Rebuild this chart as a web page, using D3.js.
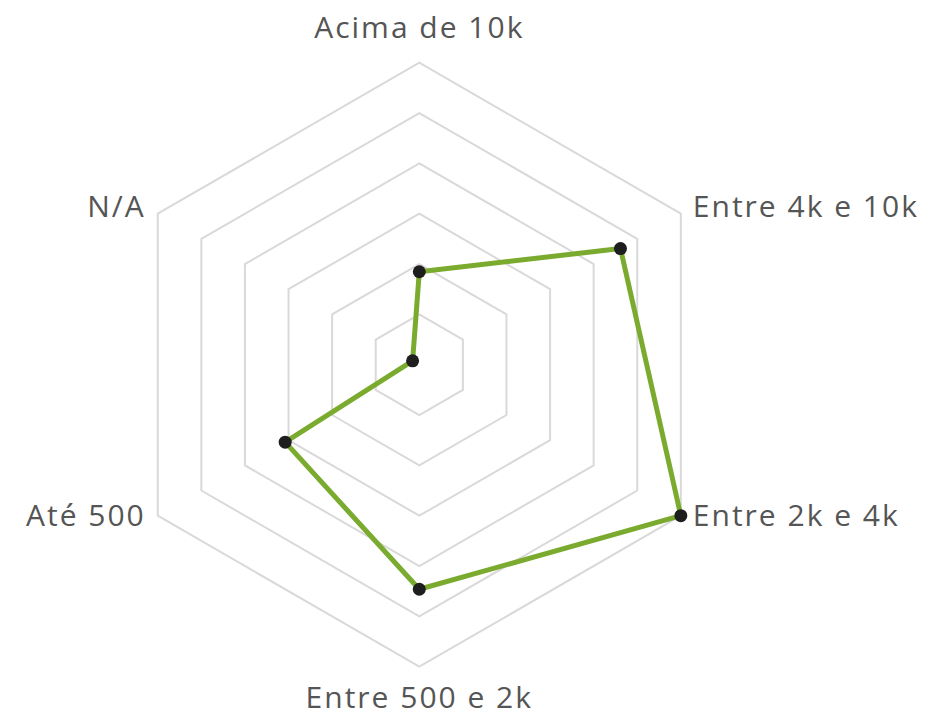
<!DOCTYPE html>
<html>
<head>
<meta charset="utf-8">
<script src="https://cdn.jsdelivr.net/npm/d3@7"></script>
<style>
  body { margin: 0; background: #fff; }
  svg { display: block; }
</style>
</head>
<body>
<svg id="radar"></svg>
<script>
// faixas de receita (eixos do radar)
var categories = ["Acima de 10k", "Entre 4k e 10k", "Entre 2k e 4k", "Entre 500 e 2k", "Até 500", "N/A"];
var values = [12, 30, 39, 29, 20, 1];
var gridLevels = [1, 2, 3, 4, 5, 6];

var width = 926, height = 716;
var cx = 419.3, cy = 364.7, radius = 302;

var svg = d3.select("#radar")
    .attr("width", width)
    .attr("height", height);

var rScale = d3.scaleLinear()
    .domain([0, d3.max(values)])
    .range([0, radius]);

var levelScale = d3.scaleLinear()
    .domain([0, d3.max(gridLevels)])
    .range([0, radius]);

var angle = d3.scaleLinear()
    .domain([0, categories.length])
    .range([0, 2 * Math.PI]);

var g = svg.append("g")
    .attr("transform", "translate(" + cx + "," + cy + ")");

// grade hexagonal
var gridLine = d3.lineRadial()
    .angle((d, i) => angle(i))
    .radius(d => d)
    .curve(d3.curveLinearClosed);

g.selectAll(".grid")
    .data(gridLevels)
    .enter()
    .append("path")
      .classed("grid", true)
      .attr("d", lvl => gridLine(categories.map(() => levelScale(lvl))))
      .attr("fill", "none")
      .attr("stroke", "#d9d9d9")
      .attr("stroke-width", 2);

// linha dos dados
var dataLine = d3.lineRadial()
    .angle((d, i) => angle(i))
    .radius(d => rScale(d))
    .curve(d3.curveLinearClosed);

g.append("path")
    .datum(values)
    .attr("d", dataLine)
    .attr("fill", "none")
    .attr("stroke", "#7aab2f")
    .attr("stroke-width", 5)
    .attr("stroke-linejoin", "round");

// pontos
g.selectAll(".dot")
    .data(values)
    .enter()
    .append("circle")
      .classed("dot", true)
      .attr("cx", (d, i) => rScale(d) * Math.sin(angle(i)))
      .attr("cy", (d, i) => -rScale(d) * Math.cos(angle(i)))
      .attr("r", 6.5)
      .attr("fill", "#1e1e1e");

// rótulos
g.selectAll(".label")
    .data(categories)
    .enter()
    .append("text")
      .classed("label", true)
      .attr("x", (d, i) => {
        var s = Math.sin(angle(i));
        if (Math.abs(s) < 0.01) return 0;
        return radius * s + (s > 0 ? 12 : -12);
      })
      .attr("y", (d, i) => {
        var c = Math.cos(angle(i));
        var vy = -radius * c;
        if (c > 0.99) return vy - 25;
        if (c < -0.99) return vy + 41;
        return c > 0 ? vy + 3 : vy + 10;
      })
      .attr("text-anchor", (d, i) => {
        var s = Math.sin(angle(i));
        if (Math.abs(s) < 0.01) return "middle";
        return s > 0 ? "start" : "end";
      })
      .style("font-family", "'Open Sans', sans-serif")
      .style("font-size", "30px")
      .style("letter-spacing", "2px")
      .style("fill", "#555")
      .text(d => d);
</script>
</body>
</html>
